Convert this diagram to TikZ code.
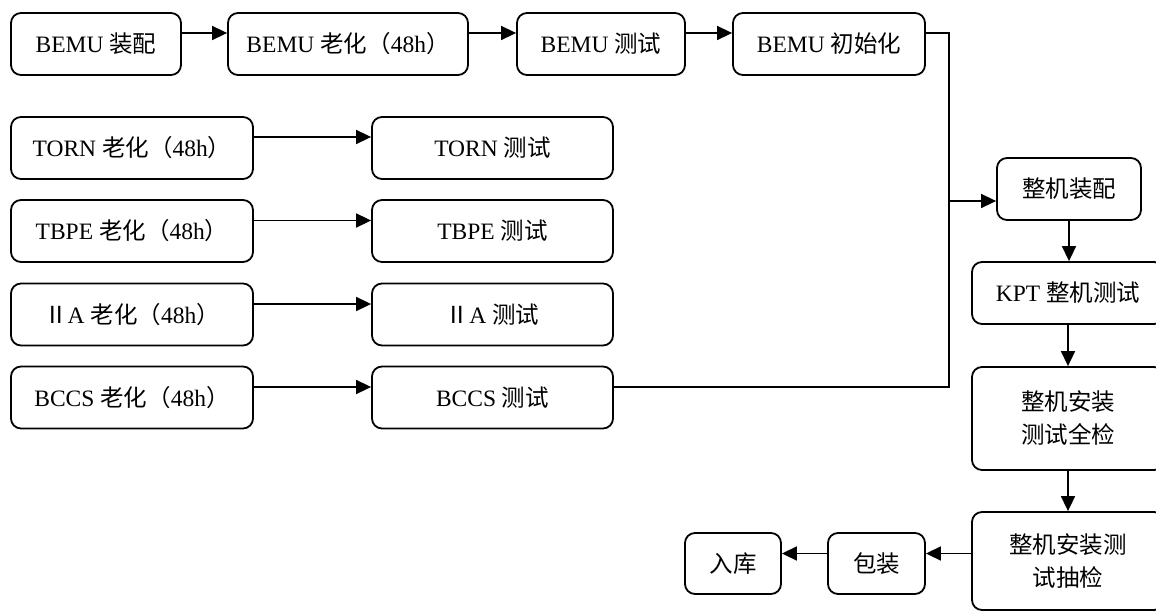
\documentclass[tikz,border=0pt]{standalone}
\usepackage{fontspec}
\setmainfont{Liberation Serif}
\newfontfamily\cjk{Noto Sans CJK SC}
\newcommand{\zh}[1]{{\cjk #1}}
\usetikzlibrary{arrows.meta}
\begin{document}
\begin{tikzpicture}[x=1pt,y=-1pt,
  box/.style={draw, line width=1.8pt, rounded corners=10pt, align=center,
    inner sep=0pt, font=\fontsize{23.5}{33}\selectfont},
  link/.style={line width=1.6pt},
  arr/.style={line width=1.6pt, -{Triangle[length=15pt,width=14pt]}}]
\clip (0,0) rectangle (1156,612);
% top row
\node[box, minimum width=170pt, minimum height=62pt] (a1) at (96,44) {BEMU \zh{装配}};
\node[box, minimum width=240pt, minimum height=62pt] (a2) at (348,44) {BEMU \zh{老化（}48h\zh{）}};
\node[box, minimum width=168pt, minimum height=62pt] (a3) at (601,44) {BEMU \zh{测试}};
\node[box, minimum width=192pt, minimum height=62pt] (a4) at (829,44) {BEMU \zh{初始化}};
% left rows
\node[box, minimum width=242pt, minimum height=62pt] (t1) at (132,148) {TORN \zh{老化（}48h\zh{）}};
\node[box, minimum width=241pt, minimum height=62pt] (t2) at (492.5,148) {TORN \zh{测试}};
\node[box, minimum width=242pt, minimum height=62pt] (b1) at (132,231) {TBPE \zh{老化（}48h\zh{）}};
\node[box, minimum width=241pt, minimum height=62pt] (b2) at (492.5,231) {TBPE \zh{测试}};
\node[box, minimum width=242pt, minimum height=62pt] (c1) at (132,314.5) {\zh{Ⅱ}A \zh{老化（}48h\zh{）}};
\node[box, minimum width=241pt, minimum height=62pt] (c2) at (492.5,314.5) {\zh{Ⅱ}A \zh{测试}};
\node[box, minimum width=242pt, minimum height=62pt] (d1) at (132,397.5) {BCCS \zh{老化（}48h\zh{）}};
\node[box, minimum width=241pt, minimum height=62pt] (d2) at (492.5,397.5) {BCCS \zh{测试}};
% right column
\node[box, minimum width=144pt, minimum height=62pt] (z1) at (1069,189) {\zh{整机装配}};
\node[box, minimum width=192pt, minimum height=62pt] (z2) at (1068,293) {KPT \zh{整机测试}};
\node[box, minimum width=192pt, minimum height=103pt] (z3) at (1068,418.5) {\zh{整机安装}\\\zh{测试全检}};
\node[box, minimum width=192pt, minimum height=98pt] (z4) at (1068,561) {\zh{整机安装测}\\\zh{试抽检}};
% bottom row
\node[box, minimum width=97pt, minimum height=61pt] (p) at (876.5,563.5) {\zh{包装}};
\node[box, minimum width=96pt, minimum height=61pt] (r) at (733,563.5) {\zh{入库}};
% connectors top row
\draw[arr] ([yshift=11pt]a1.east) -- ([yshift=11pt]a2.west);
\draw[arr] ([yshift=11pt]a2.east) -- ([yshift=11pt]a3.west);
\draw[arr] ([yshift=11pt]a3.east) -- ([yshift=11pt]a4.west);
% left rows
\draw[arr] ([yshift=11pt]t1.east) -- ([yshift=11pt]t2.west);
\draw[arr] ([yshift=10.5pt]b1.east) -- ([yshift=10.5pt]b2.west);
\draw[arr] ([yshift=10.5pt]c1.east) -- ([yshift=10.5pt]c2.west);
\draw[arr] ([yshift=10.5pt]d1.east) -- ([yshift=10.5pt]d2.west);
% junction to assembly
\coordinate (jt) at (949,201);
\draw[link] ([yshift=11pt]a4.east) -| (jt);
\draw[link] ([yshift=10.5pt]d2.east) -| (jt);
\draw[arr] (jt) -- (jt -| z1.west);
% right column
\draw[arr] (z1.south) -- (z1.south |- z2.north);
\draw[arr] (z2.south) -- (z3.north);
\draw[arr] (z3.south) -- (z4.north);
% bottom row
\coordinate (pe) at ([yshift=10pt]p.east);
\draw[arr] (pe -| z4.west) -- (pe);
\draw[arr] ([yshift=10pt]p.west) -- ([yshift=10pt]r.east);
\end{tikzpicture}
\end{document}
